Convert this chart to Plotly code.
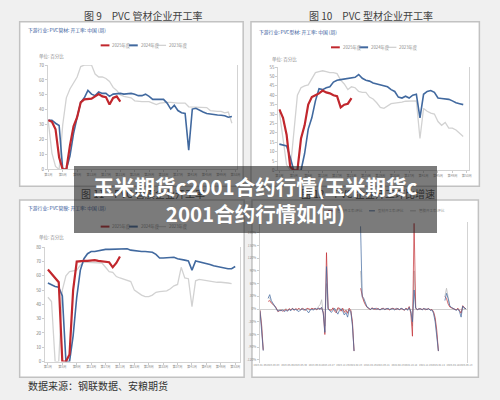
import plotly.graph_objects as go
import pandas as pd

W, H = 500, 400
FONT = "Noto Sans CJK SC"
RED = "#c1272d"
BLUE = "#41699f"
GRAY = "#d2d2d2"

def px(x):
    return x / W

def py(y):
    return 1 - y / H

# ---------------- data ----------------
week_labels = ["第%d周" % w for w in range(1, 54, 4)]
week_ticks = list(range(1, 54, 4))
legend_names = ["2025年度", "2024年度", "2023年度"]

# 图9 PVC管材企业开工率
pipe_2025 = [33, 32, 27, 8, 0, 0, 16, 29, 35, 45, 47, 47, 47.5, 49, 50.5, 49, 48.5, 43.5, 48, 49, 45.5]
pipe_2024 = [33, 33, 31, 29.5, 0, 0, 9, 24, 35, 45, 48, 53, 50.5, 49.5, 52, 51, 51, 49, 50.5, 51,
             51, 50.5, 51, 51, 50.5, 49.5, 49.5, 50.5, 49, 47, 47, 47, 47, 44.5, 40.5, 43, 39.5, 38, 37.5, 13,
             40.5, 41, 39.5, 38.5, 37.5, 37, 36.5, 36.5, 36.3, 36, 35, 35.5]
pipe_2023 = [32, 11, 2, 0, 30, 48, 54, 58, 62, 69, 70, 70, 70, 64, 62, 62, 61, 59, 55, 53,
             50, 49, 48.5, 48, 46, 45.5, 45.5, 45.5, 45.5, 44.5, 43.5, 44.5, 45, 45, 45, 44.5, 44.5, 44.5, 44.5, 42,
             42, 42, 42, 42, 41.5, 39.5, 39, 39, 39, 38, 38.5, 31]

# 图10 PVC型材企业开工率
profile_2025 = [32.5, 28, 19, 2, 0, 0, 17, 24, 35, 39, 40, 41, 42.5, 41.5, 41, 40, 39.5, 33.5, 35, 35.5, 38.5]
profile_2024 = [14, 13.5, 13, 7, 0, 0, 0, 9, 22, 28, 37, 43.5, 43, 44, 44.5, 47, 48, 48.3, 48.5, 48.8,
                49, 49.5, 51, 49, 48, 47.5, 46.5, 46, 45.5, 45.3, 44.5, 43, 42, 39, 38.5, 39.5, 38.5, 40, 40.5, 28,
                40.5, 42, 42.5, 41.5, 38.5, 38.3, 38, 37.8, 37, 36, 35.5, 35]
profile_2023 = [31, 16, 3, 0, 22, 40, 44, 45, 45.5, 49, 52, 52.5, 53, 52.5, 52, 52, 51.5, 48, 46, 43,
                44.5, 44, 42, 41.5, 41.5, 39, 38, 36, 33.5, 33, 34.5, 35.5, 35.8, 36, 36.3, 36.8, 37, 37, 37, 17,
                33, 31.5, 30.5, 30, 26, 24, 25.5, 22.5, 22.5, 21.5, 19.5, 18]

# 图11 PVC管膜企业开工率
film_2025 = [64.5, 61.5, 58.5, 55.5, 0, 0, 5, 50, 70, 70.5, 70.5, 70.5, 71, 71, 70.5, 70, 69.5, 69.5, 66, 69, 73.5]
film_2024 = [55, 53.5, 52.5, 52, 46, 0, 0, 18, 45, 64, 72, 75.5, 77, 77, 77.5, 78.5, 78.5, 78.5, 78.5, 78.5,
             78.5, 78.5, 79, 78, 77.5, 77, 77, 77, 77, 76.5, 75, 72.5, 72.5, 72.5, 72.5, 73, 72, 71.3, 71, 70.5,
             64, 70.5, 70, 69.5, 69, 68, 67, 66.5, 65.5, 65, 65, 65, 66.5]
film_2023 = [45, 42, 0, 0, 50, 60, 63, 63.5, 64, 67.5, 69.5, 69.5, 69.5, 69.5, 69.5, 69, 66, 63, 62.5, 59.5,
             58.5, 57.5, 57, 56, 50, 48, 46.5, 45.5, 45.5, 46.5, 48.5, 49, 49, 49.5, 51, 53, 54, 66, 58.5, 58,
             38.5, 56.5, 57.5, 57, 56.5, 56, 56, 55.5, 55.5, 55.5, 55, 54.5]

# 图12 PVC企业开工环比增速 (%), weekly from 2023-01-06
growth_start = "2023-01-06"
growth_pipe = [-3, -40, -97, None, None, 18, 20, 14, 12, 8, 3, -6, -4, -2, -5, -3,
               -1, -4, 1, -2, 2, -3, 1, -1, 2, -2, 1, 0, -3, 2, 1, -1,
               2, 0, 1, -2, 2, 1, 3, -8, -60, 133, 2, -2, -3, 3, -5, -9,
               3, 2, -5, 2, -8, -3, -10, 2, -4, -30, -99, None, None, None, 49, 30,
               18, 10, 4, 2, -2, 3, 1, -1, 2, 0, -2, 1, 2, -1, 1, 0,
               -2, 1, 2, 0, -1, 2, -2, 1, 0, -3, 2, -1, 6, -10, -64, 202,
               3, -2, 1, 0, -1, 2, -2, 0, 1, -2, -1, -6, -20, -50, -99, None,
               None, None, 30, 25, 12, 5, 3, 1, 0, -2, 2, -4, -10, 8, 3, 0]
growth_profile = [-5, -45, -98, None, None, 25, 34, 20, 14, 10, 2, -5, -3, -4, -2, -6,
                  -3, -5, -1, -4, 1, -2, -1, -3, -6, -2, 1, -3, 0, -4, -9, -2,
                  -1, -2, 1, 0, 2, -1, 4, -10, -55, 100, 0, -4, -8, -3, 2, -6,
                  -12, -3, 1, -5, -14, -8, -19, -2, -6, -40, -99, None, None, None, 195, 30,
                  25, 12, 5, 3, -1, 2, 0, 2, -1, 1, -2, 0, 1, -1, 0, 2,
                  -1, 0, 1, -2, 1, 0, -1, 2, -1, -2, 1, -3, 4, -6, -30, 45,
                  2, -1, 0, 1, -2, 1, 0, -1, 1, -3, -2, -10, -30, -70, -99, None,
                  None, None, 20, 37, 25, 8, 4, 2, 1, -3, 0, -6, -19, 7, 2, 1]
growth_film = [-2, -35, -95, None, None, 28, 26, 16, 10, 5, 1, -4, -2, -3, -1, -2,
               1, -2, 0, -3, 2, -1, 0, -2, 1, -1, 2, 0, -2, 1, 0, -1,
               1, 0, 2, -1, 6, 10, 22, -5, -40, 60, 1, -3, -2, 2, -3, -6,
               2, 1, -4, 1, -6, -2, -8, 1, -3, -35, -98, None, None, None, 90, 28,
               20, 10, 4, 1, -1, 2, 0, 1, -1, 0, -1, 1, 0, -1, 1, 0,
               -1, 1, 0, -1, 2, 0, -1, 1, 0, -2, 1, -1, 3, -5, -40, 90,
               1, -1, 0, 1, -1, 0, 1, -1, 0, -2, -1, -8, -25, -60, -99, None,
               None, None, 30, 49, 28, 8, 3, 1, 0, -2, 1, -3, -8, 5, 1, 0]
growth_ticks = [-120, -90, -60, -30, 0, 30, 60, 90, 120, 150, 180]
growth_tick_idx = [0, 8, 17, 25, 34, 42, 51, 59, 68, 76, 85, 93, 102, 110, 119, 127]
growth_legend = ["管材开工率:环比", "型材开工率:环比", "管膜开工率:环比"]

titles = ["图 9　PVC 管材企业开工率", "图 10　PVC 型材企业开工率",
          "图 11　PVC 管膜企业开工率", "图 12　PVC 企业开工环比增速"]
subtitles = ["下游行业: PVC管材: 开工率: 中国 (周)", "下游行业: PVC型材: 开工率: 中国 (周)",
             "下游行业: PVC管膜: 开工率: 中国 (周)"]
overlay_text = "玉米期货c2001合约行情(玉米期货c<br>2001合约行情如何)"
source_text = "数据来源：钢联数据、安粮期货"

# ---------------- figure ----------------
fig = go.Figure()

def add_line(vals, color, width, xa, ya, xs=None):
    if xs is None:
        xs = list(range(1, len(vals) + 1))
    fig.add_trace(go.Scatter(x=xs, y=vals, mode="lines", line=dict(color=color, width=width),
                             xaxis=xa, yaxis=ya, showlegend=False, hoverinfo="skip",
                             connectgaps=False))

for (a, b, c), (xa, ya) in [((pipe_2025, pipe_2024, pipe_2023), ("x", "y")),
                            ((profile_2025, profile_2024, profile_2023), ("x2", "y2")),
                            ((film_2025, film_2024, film_2023), ("x3", "y3"))]:
    add_line(c, GRAY, 1.3, xa, ya)
    add_line(b, BLUE, 1.6, xa, ya)
    add_line(a, RED, 2.2, xa, ya)

dates = pd.date_range(growth_start, periods=len(growth_pipe), freq="7D")
add_line(growth_film, "rgba(190,190,190,0.9)", 0.9, "x4", "y4", list(dates))
add_line(growth_pipe, "rgba(193,39,45,0.75)", 0.9, "x4", "y4", list(dates))
add_line(growth_profile, "rgba(65,105,159,0.8)", 0.9, "x4", "y4", list(dates))

tickfont = dict(size=4.5, color="#7f7f7f", family=FONT)
axis_base = dict(showgrid=False, zeroline=False, showline=True, linecolor="#d3d3d3", linewidth=1,
                 ticks="outside", ticklen=2, tickcolor="#cccccc", tickfont=tickfont, fixedrange=True,
                 tickangle=0)

def xweek(domain, rng, anchor):
    d = dict(axis_base)
    d.update(domain=domain, range=rng, anchor=anchor, tickmode="array",
             tickvals=week_ticks, ticktext=week_labels, tickfont=dict(size=3.2, color="#8c8c8c", family=FONT))
    return d

def yval(domain, rng, dtick, anchor):
    d = dict(axis_base)
    d.update(domain=domain, range=rng, anchor=anchor, dtick=dtick, tick0=0, mirror=True)
    return d

xb4 = dict(axis_base)
xb4.update(domain=[px(260), px(472)], anchor="y4", showline=False,
           range=[dates[0] - pd.Timedelta(days=1), dates[-1] + pd.Timedelta(days=3)],
           tickmode="array", tickvals=[dates[i] for i in growth_tick_idx],
           ticktext=[dates[i].strftime("%Y-%m-%d") for i in growth_tick_idx],
           tickfont=dict(size=2.5, color="#8c8c8c", family=FONT), ticks="")
yb4 = dict(axis_base)
yb4.update(domain=[py(365), py(222)], anchor="x4", range=[-126, 206], mirror=True,
           tickmode="array", tickvals=growth_ticks, ticktext=["%d%%" % v for v in growth_ticks],
           tickfont=dict(size=3.2, color="#8c8c8c", family=FONT),
           zeroline=True, zerolinecolor="#d0d0d0", zerolinewidth=1)

fig.update_layout(
    width=W, height=H, margin=dict(l=0, r=0, t=0, b=0),
    paper_bgcolor="#f0f0f0", plot_bgcolor="rgba(0,0,0,0)",
    xaxis=xweek([px(43), px(237)], [0.9, 53.5], "y"),
    yaxis=yval([py(169), py(63)], [0, 70], 10, "x"),
    xaxis2=xweek([px(279), px(474)], [0.7, 53.5], "y2"),
    yaxis2=yval([py(170), py(65)], [0, 55], 5, "x2"),
    xaxis3=xweek([px(40), px(240)], [0.2, 54.4], "y3"),
    yaxis3=yval([py(364), py(248)], [0, 80], 10, "x3"),
    xaxis4=xb4, yaxis4=yb4,
    showlegend=False,
)

shapes = []
# white panels
for x0, y0, x1, y1 in [(14, 19, 243, 186), (251, 19, 485, 186), (14, 200, 244, 380), (252, 200, 484, 380)]:
    shapes.append(dict(type="rect", xref="paper", yref="paper", x0=px(x0), x1=px(x1), y0=py(y1), y1=py(y0),
                       fillcolor="white", line=dict(color="#c2c2c2", width=1.5), layer="below"))

annotations = []

def text(x, y, s, size, color, xanchor="left", bold=False):
    annotations.append(dict(xref="paper", yref="paper", x=px(x), y=py(y), text=("<b>%s</b>" % s) if bold else s,
                            showarrow=False, xanchor=xanchor, yanchor="middle",
                            font=dict(size=size, color=color, family=FONT)))

# manual legends for the three week charts
legend_pos = [(97, 43), (333, 45), (97, 227)]
colors = [RED, BLUE, GRAY]
widths = [2, 2, 1.3]
for lx, ly in legend_pos:
    for k in range(3):
        x0 = lx + k * 29
        shapes.append(dict(type="line", xref="paper", yref="paper", x0=px(x0), x1=px(x0 + 9),
                           y0=py(ly), y1=py(ly), line=dict(color=colors[k], width=widths[k])))
        text(x0 + 10, ly, legend_names[k], 4.3, "#8c8c8c")

# legend of growth chart
for k, c in enumerate([RED, BLUE, "#bdbdbd"]):
    x0 = 330 + k * 42
    shapes.append(dict(type="line", xref="paper", yref="paper", x0=px(x0), x1=px(x0 + 6),
                       y0=py(211), y1=py(211), line=dict(color=c, width=1)))
    text(x0 + 7, 211, growth_legend[k], 3.5, "#9a9a9a")

# titles
text(140, 13, titles[0], 10, "#404040", "center")
text(374, 13, titles[1], 10, "#404040", "center")
text(140, 193, titles[2], 10, "#404040", "center")
text(371, 193, titles[3], 10, "#404040", "center")

# subtitles and units
text(20, 27, subtitles[0], 4.8, "#2f5597")
text(257, 29, subtitles[1], 4.8, "#2f5597")
text(20, 208, subtitles[2], 4.8, "#2f5597")
text(32, 54, "单位: 百分比", 4.5, "#8c8c8c")
text(270, 57, "单位: 百分比", 4.5, "#8c8c8c")
text(32, 238, "单位: 百分比", 4.5, "#8c8c8c")

# source
text(20, 388, source_text, 10, "#333333")

# overlay banner (last, on top of everything)
annotations.append(dict(xref="paper", yref="paper", x=px((68 + 431) / 2 + 6), y=py((166 + 233) / 2),
                        xanchor="center", yanchor="middle", showarrow=False,
                        text="<b>%s</b>" % overlay_text, align="center",
                        width=363, height=67, borderpad=0, borderwidth=0,
                        bgcolor="rgba(35,35,35,0.6)",
                        font=dict(size=20.5, color="white", family=FONT)))

fig.update_layout(shapes=shapes, annotations=annotations)
fig.write_html("out.html")
